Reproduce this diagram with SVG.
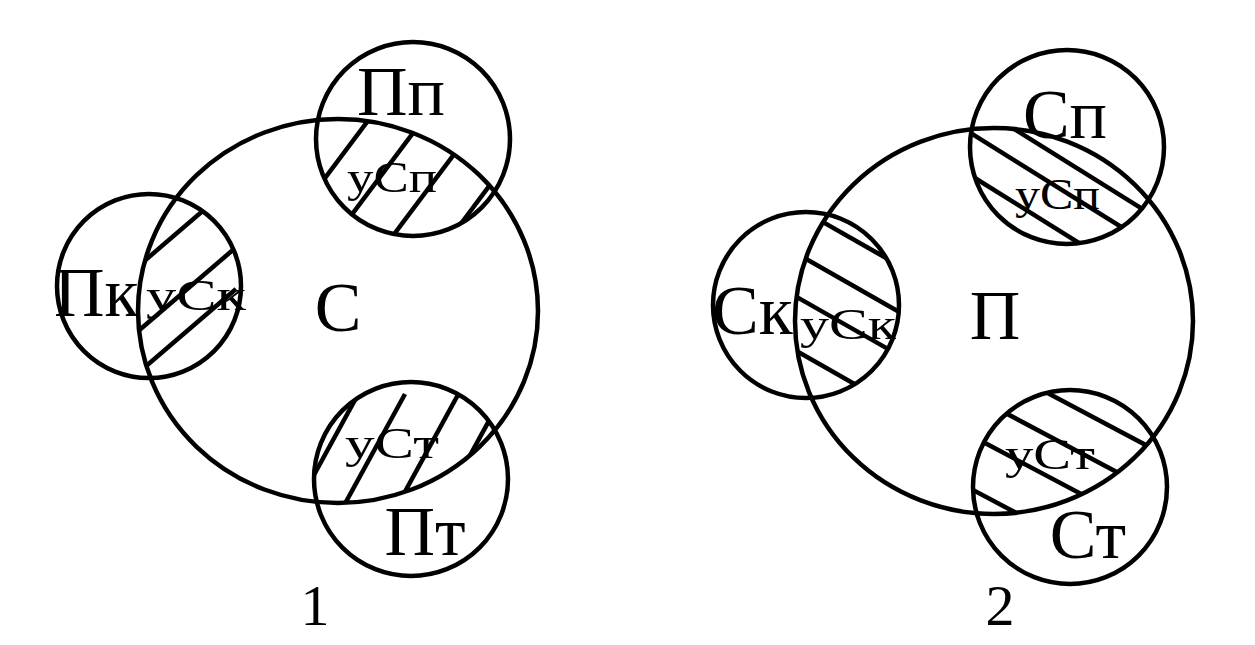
<svg xmlns="http://www.w3.org/2000/svg" width="1255" height="645" viewBox="0 0 1255 645">
<style>
.c{fill:none;stroke:#000;stroke-width:4.5}
.h{stroke:#000;stroke-width:4.5;fill:none}
.t{font-family:"Liberation Serif","Times New Roman",serif;fill:#000}
.big{font-size:70px}
.sm{font-size:44px}
.num{font-size:58px}
</style>
<defs>
<clipPath id="clC"><ellipse cx="338" cy="311" rx="200" ry="192"/></clipPath>
<clipPath id="clPp"><circle cx="413" cy="139" r="97"/></clipPath>
<clipPath id="clPk"><circle cx="149" cy="286" r="92"/></clipPath>
<clipPath id="clPt"><circle cx="411" cy="479" r="97"/></clipPath>
<clipPath id="clP"><ellipse cx="994" cy="321" rx="199" ry="193"/></clipPath>
<clipPath id="clSp"><circle cx="1067" cy="147" r="97"/></clipPath>
<clipPath id="clSk"><circle cx="806" cy="305" r="93"/></clipPath>
<clipPath id="clSt"><circle cx="1070" cy="487" r="97"/></clipPath>
</defs>
<rect width="1255" height="645" fill="#fff"/>
<g id="hatching">
<g clip-path="url(#clC)"><g clip-path="url(#clPp)">
<line class="h" x1="235" y1="298" x2="415" y2="58"/>
<line class="h" x1="263" y1="333" x2="443" y2="93"/>
<line class="h" x1="305" y1="353" x2="485" y2="113"/>
<line class="h" x1="385" y1="325" x2="565" y2="85"/>
</g></g>
<g clip-path="url(#clC)"><g clip-path="url(#clPk)">
<line class="h" x1="51" y1="341" x2="233" y2="185"/>
<line class="h" x1="52" y1="405" x2="234" y2="249"/>
<line class="h" x1="54" y1="445" x2="236" y2="289"/>
</g></g>
<g clip-path="url(#clC)"><g clip-path="url(#clPt)">
<line class="h" x1="257" y1="579" x2="373" y2="367"/>
<line class="h" x1="289" y1="606" x2="405" y2="394"/>
<line class="h" x1="349" y1="594" x2="465" y2="382"/>
<line class="h" x1="415" y1="556" x2="531" y2="344"/>
</g></g>
<g clip-path="url(#clP)"><g clip-path="url(#clSp)">
<line class="h" x1="807" y1="31" x2="1147" y2="243"/>
<line class="h" x1="808" y1="74" x2="1148" y2="286"/>
<line class="h" x1="857" y1="31" x2="1197" y2="243"/>
</g></g>
<g clip-path="url(#clP)"><g clip-path="url(#clSk)">
<line class="h" x1="698" y1="151" x2="958" y2="299"/>
<line class="h" x1="678" y1="186" x2="938" y2="334"/>
<line class="h" x1="672" y1="226" x2="932" y2="374"/>
<line class="h" x1="670" y1="279" x2="930" y2="427"/>
</g></g>
<g clip-path="url(#clP)"><g clip-path="url(#clSt)">
<line class="h" x1="925" y1="328" x2="1189" y2="468"/>
<line class="h" x1="881" y1="347" x2="1145" y2="487"/>
<line class="h" x1="853" y1="373" x2="1117" y2="513"/>
<line class="h" x1="841" y1="420" x2="1105" y2="560"/>
</g></g>
</g>
<g id="node-C">
<ellipse class="c" cx="338" cy="311" rx="200" ry="192"/>
<text class="t big" x="338" y="331" text-anchor="middle">С</text>
</g>
<g id="node-Pp">
<circle class="c" cx="413" cy="139" r="97"/>
<text class="t big" x="401" y="115" text-anchor="middle">Пп</text>
<text class="t sm" x="347" y="192" textLength="90" lengthAdjust="spacingAndGlyphs">уСп</text>
</g>
<g id="node-Pk">
<circle class="c" cx="149" cy="286" r="92"/>
<text class="t big" x="54" y="316">Пк</text>
<text class="t sm" x="146" y="310" textLength="100" lengthAdjust="spacingAndGlyphs">уСк</text>
</g>
<g id="node-Pt">
<circle class="c" cx="411" cy="479" r="97"/>
<text class="t big" x="425" y="555" text-anchor="middle">Пт</text>
<text class="t sm" x="345" y="458" textLength="94" lengthAdjust="spacingAndGlyphs">уСт</text>
</g>
<g id="node-P">
<ellipse class="c" cx="994" cy="321" rx="199" ry="193"/>
<text class="t big" x="995" y="339" text-anchor="middle">П</text>
</g>
<g id="node-Sp">
<circle class="c" cx="1067" cy="147" r="97"/>
<text class="t big" x="1065" y="138" text-anchor="middle">Сп</text>
<text class="t sm" x="1015" y="209" textLength="85" lengthAdjust="spacingAndGlyphs">уСп</text>
</g>
<g id="node-Sk">
<circle class="c" cx="806" cy="305" r="93"/>
<text class="t big" x="712" y="334">Ск</text>
<text class="t sm" x="800" y="339" textLength="96" lengthAdjust="spacingAndGlyphs">уСк</text>
</g>
<g id="node-St">
<circle class="c" cx="1070" cy="487" r="97"/>
<text class="t big" x="1088" y="558" text-anchor="middle">Ст</text>
<text class="t sm" x="1005" y="469" textLength="90" lengthAdjust="spacingAndGlyphs">уСт</text>
</g>
<g id="labels">
<text class="t num" x="315" y="625" text-anchor="middle">1</text>
<text class="t num" x="1000" y="625" text-anchor="middle">2</text>
</g>
</svg>
